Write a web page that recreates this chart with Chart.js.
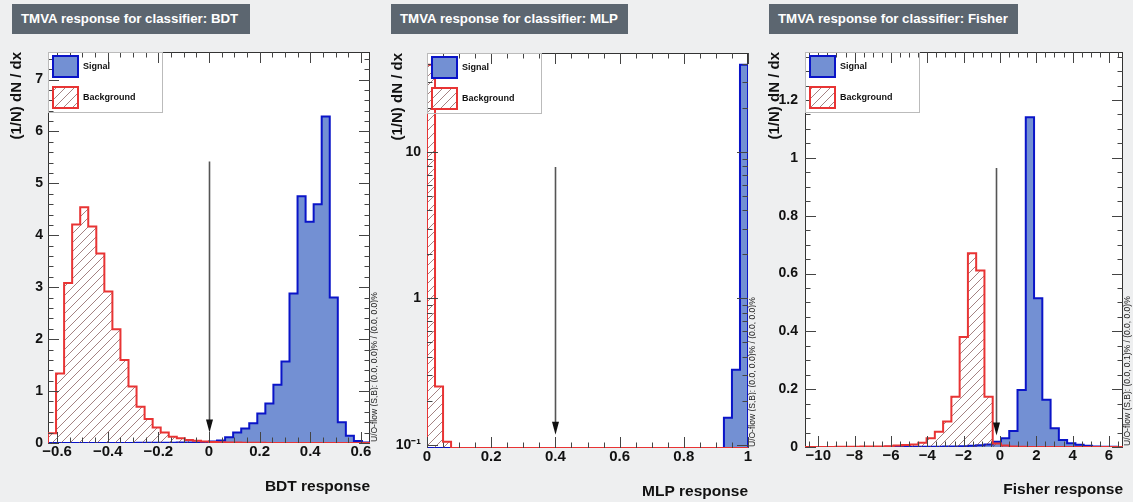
<!DOCTYPE html>
<html>
<head>
<meta charset="utf-8">
<script src="https://cdn.jsdelivr.net/npm/chart.js@4.4.0/dist/chart.umd.min.js"></script>
<style>
  body { margin: 0; width: 1133px; height: 502px; overflow: hidden; background: #eeeff0; font-family: 'Liberation Sans', Arial, sans-serif; }
  .panel { position: absolute; top: 0; height: 502px; }
  .panel canvas { position: absolute; left: 0; top: 0; }
  .ttl { position: absolute; top: 4px; height: 30px; line-height: 30px; background: #5c6670; color: #fff;
         font-weight: bold; font-size: 13.3px; padding-left: 9px; box-sizing: border-box; white-space: nowrap; }
</style>
</head>
<body>
<div class="panel" style="left:0;width:378px"><canvas id="cBDT" width="378" height="502"></canvas></div>
<div class="panel" style="left:378px;width:378px"><canvas id="cMLP" width="378" height="502"></canvas></div>
<div class="panel" style="left:756px;width:377px"><canvas id="cFisher" width="377" height="502"></canvas></div>
<div class="ttl" style="left:12px;width:238px">TMVA response for classifier: BDT</div>
<div class="ttl" style="left:391px;width:237px">TMVA response for classifier: MLP</div>
<div class="ttl" style="left:769px;width:249px">TMVA response for classifier: Fisher</div>
<script>
// BDT response, 40 bins over the axis range
const bdtRange = [-0.636, 0.636];
const bdtSignal = [0, 0, 0, 0, 0, 0, 0, 0, 0, 0.002, 0.002, 0.003, 0.003, 0.004, 0.005, 0.006, 0.008, 0.01, 0.012,
                   0.02, 0.03, 0.05, 0.11, 0.2, 0.28, 0.38, 0.57, 0.76, 1.12, 1.57, 2.88, 4.75, 4.26, 4.6, 6.29, 2.8, 0.4, 0.14, 0.04, 0.01];
const bdtBackground = [0.19, 1.34, 3.08, 4.21, 4.54, 4.17, 3.65, 2.92, 2.19, 1.6, 1.09, 0.7, 0.46, 0.3, 0.2, 0.12, 0.09, 0.06, 0.045, 0.03,
                       0.02, 0.015, 0.01, 0.008, 0.005, 0.004, 0.003, 0.002, 0.002, 0.001, 0, 0, 0, 0, 0, 0, 0, 0, 0, 0];
const bdtCut = 0;

// MLP response, 40 bins in [0, 1], log y axis
const mlpRange = [0, 1];
const mlpSignal = [0, 0, 0, 0, 0, 0, 0, 0, 0, 0, 0, 0, 0, 0, 0, 0, 0, 0, 0, 0,
                   0, 0, 0, 0, 0, 0, 0, 0, 0, 0, 0, 0, 0, 0, 0, 0, 0, 0.153, 0.325, 39.5];
const mlpBackground = [39.6, 0.25, 0.105, 0, 0, 0, 0, 0, 0, 0, 0, 0, 0, 0, 0, 0, 0, 0, 0, 0,
                       0, 0, 0, 0, 0, 0, 0, 0, 0, 0, 0, 0, 0, 0, 0, 0, 0, 0, 0, 0];
const mlpCut = 0.4;
const mlpLogTicks = [0.1, 0.2, 0.3, 0.4, 0.5, 0.6, 0.7, 0.8, 0.9, 1, 2, 3, 4, 5, 6, 7, 8, 9, 10, 20, 30, 40];

// Fisher response
const fisherBinStart = -10.865;
const fisherBinWidth = 0.455;
const fisherSignal = [0, 0, 0, 0, 0, 0, 0, 0, 0, 0, 0.001, 0.001, 0.001, 0.001, 0.001, 0.001, 0.001, 0.0015, 0.002, 0.003,
                      0.004, 0.006, 0.009, 0.018, 0.03, 0.055, 0.197, 1.14, 0.514, 0.163, 0.065, 0.024, 0.013, 0.008, 0.004, 0.002, 0.001, 0.0005, 0];
const fisherBackground = [0, 0, 0, 0, 0.001, 0.001, 0.001, 0.002, 0.002, 0.002, 0.003, 0.005, 0.007, 0.009, 0.015, 0.03, 0.053, 0.088, 0.174, 0.38,
                          0.67, 0.61, 0.174, 0.012, 0.005, 0.002, 0.001, 0, 0, 0, 0, 0, 0, 0, 0, 0, 0, 0, 0];
const fisherCut = -0.23;

const sigFill = '#7390d3', sigLine = '#0a14c8';
const bkgLine = '#e83434';
const FONT = "'Liberation Sans', Arial, sans-serif";

function makeHatch() {
    const c = document.createElement('canvas');
    c.width = c.height = 9;
    const g = c.getContext('2d');
    g.strokeStyle = 'rgba(120,70,70,0.85)';
    g.lineWidth = 0.8;
    g.beginPath(); g.moveTo(-1, 10); g.lineTo(10, -1); g.stroke();
    g.beginPath(); g.moveTo(-1, 1); g.lineTo(1, -1); g.stroke();
    g.beginPath(); g.moveTo(8, 10); g.lineTo(10, 8); g.stroke();
    return g.createPattern(c, 'repeat');
}
const hatch = makeHatch();

// step outline points of a histogram, closed down to the base
function histPoints(lo, width, vals, floor) {
    const base = floor || 0;
    const pts = [{x: lo, y: base}];
    vals.forEach((v, i) => pts.push({x: lo + i * width, y: Math.max(v, base)}));
    pts.push({x: lo + vals.length * width, y: base});
    return pts;
}

function steps(lo, hi, step) {
    const out = [];
    const n0 = Math.ceil(lo / step - 1e-6), n1 = Math.floor(hi / step + 1e-6);
    for (let n = n0; n <= n1; n++) out.push(+(n * step).toFixed(6));
    return out;
}

const tmvaDecor = {
    id: 'tmvaDecor',
    beforeDatasetsDraw(chart) {
        const {ctx, chartArea: a} = chart;
        ctx.save();
        ctx.fillStyle = '#fff';
        ctx.fillRect(a.left, a.top, a.right - a.left, a.bottom - a.top);
        ctx.strokeStyle = '#333';
        ctx.lineWidth = 1;
        ctx.strokeRect(a.left + 0.5, a.top + 0.5, a.right - a.left - 1, a.bottom - a.top - 1);
        ctx.restore();
    },
    afterDatasetsDraw(chart, args, o) {
        const {ctx, chartArea: a, scales: {x, y}} = chart;
        ctx.save();
        // inside ticks on all four sides
        ctx.strokeStyle = '#444';
        ctx.lineWidth = 1;
        const majLen = 11, minLen = 5.5;
        const xMaj = steps(x.min, x.max, o.xMajor);
        steps(x.min, x.max, o.xMinor).forEach(v => {
            const len = xMaj.some(m => Math.abs(m - v) < 1e-6) ? majLen : minLen;
            const px = Math.round(x.getPixelForValue(v)) + 0.5;
            ctx.beginPath();
            ctx.moveTo(px, a.bottom); ctx.lineTo(px, a.bottom - len);
            ctx.moveTo(px, a.top); ctx.lineTo(px, a.top + len);
            ctx.stroke();
        });
        let yTicks;
        if (o.logY) {
            yTicks = y.ticks.map(t => ({v: t.value, len: Math.abs(Math.log10(t.value) % 1) < 1e-6 ? majLen : minLen}));
        } else {
            const yMaj = steps(y.min, y.max, o.yMajor);
            yTicks = steps(y.min, y.max, o.yMinor).map(v => ({v, len: yMaj.some(m => Math.abs(m - v) < 1e-6) ? majLen : minLen}));
        }
        yTicks.forEach(t => {
            const py = Math.round(y.getPixelForValue(t.v)) + 0.5;
            ctx.beginPath();
            ctx.moveTo(a.left, py); ctx.lineTo(a.left + t.len, py);
            ctx.moveTo(a.right, py); ctx.lineTo(a.right - t.len, py);
            ctx.stroke();
        });

        // cut arrow
        const ax = Math.round(x.getPixelForValue(o.cut)) + 0.5;
        const y0 = y.getPixelForValue(o.arrowFrom), y1 = y.getPixelForValue(o.arrowTo);
        ctx.strokeStyle = '#555';
        ctx.lineWidth = 1.6;
        ctx.beginPath(); ctx.moveTo(ax, y0); ctx.lineTo(ax, y1 - 10); ctx.stroke();
        ctx.fillStyle = '#111';
        ctx.beginPath(); ctx.moveTo(ax - 3.5, y1 - 13); ctx.lineTo(ax + 3.5, y1 - 13); ctx.lineTo(ax, y1); ctx.closePath(); ctx.fill();

        // legend box
        const lx = a.left, ly = a.top;
        ctx.strokeStyle = '#bbb';
        ctx.lineWidth = 1;
        ctx.strokeRect(lx + 0.5, ly + 0.5, 114, 60);
        ctx.lineWidth = 2;
        ctx.fillStyle = sigFill; ctx.fillRect(lx + 5, ly + 4, 25, 21);
        ctx.strokeStyle = sigLine; ctx.strokeRect(lx + 5, ly + 4, 25, 21);
        ctx.fillStyle = '#fff'; ctx.fillRect(lx + 5, ly + 35, 25, 21);
        ctx.fillStyle = hatch; ctx.fillRect(lx + 5, ly + 35, 25, 21);
        ctx.strokeStyle = bkgLine; ctx.strokeRect(lx + 5, ly + 35, 25, 21);
        ctx.fillStyle = '#111';
        ctx.font = 'bold 9px ' + FONT;
        ctx.textBaseline = 'middle';
        ctx.textAlign = 'left';
        ctx.fillText('Signal', lx + 35, ly + 14.5);
        ctx.fillText('Background', lx + 35, ly + 45.5);

        // under/overflow note
        ctx.translate(a.right + 5, a.bottom - 1);
        ctx.rotate(-Math.PI / 2);
        ctx.font = '8.5px ' + FONT;
        ctx.fillStyle = '#222';
        ctx.fillText(o.flow, 0, 0);
        ctx.restore();
    }
};

const minusFmt = v => String(+(+v).toFixed(3)).replace('-', '\u2212');
const logFmt = v => {
    const l = Math.log10(v);
    if (Math.abs(l - Math.round(l)) > 1e-6) return '';
    return Math.round(l) === -1 ? '10\u207B\u00B9' : String(Math.round(v));
};

function makeChart(id, cfg) {
    const canvas = document.getElementById(id);
    const W = canvas.width, H = canvas.height, area = cfg.area;
    const yScale = cfg.logY
        ? {type: 'logarithmic', min: cfg.yRange[0], max: cfg.yRange[1],
           ticks: {autoSkip: false, callback: logFmt},
           afterBuildTicks: s => { s.ticks = cfg.logTicks.map(v => ({value: v})); }}
        : {type: 'linear', min: cfg.yRange[0], max: cfg.yRange[1],
           ticks: {stepSize: cfg.yMajor, includeBounds: false, callback: minusFmt}};
    yScale.ticks.padding = cfg.yTickPad;
    yScale.ticks.color = '#111';
    yScale.ticks.font = {family: FONT, size: 14, weight: 'bold'};
    yScale.grid = {display: false, drawTicks: false};
    yScale.border = {display: false};
    yScale.title = {display: true, text: '(1/N) dN / dx', align: 'end', color: '#111',
                    font: {family: FONT, size: 15, weight: 'bold'}, padding: {top: cfg.yTitlePad}};
    yScale.afterFit = s => { s.width = area.left; };

    return new Chart(canvas.getContext('2d'), {
        type: 'line',
        data: {
            datasets: [
                {label: 'Background', data: histPoints(cfg.binStart, cfg.binWidth, cfg.background, cfg.floor),
                 borderColor: bkgLine, backgroundColor: hatch, fill: 'origin', stepped: true, order: 0},
                {label: 'Signal', data: histPoints(cfg.binStart, cfg.binWidth, cfg.signal, cfg.floor),
                 borderColor: sigLine, backgroundColor: sigFill, fill: 'origin', stepped: true, order: 1}
            ]
        },
        options: {
            responsive: false,
            animation: false,
            layout: {padding: {top: area.top, right: W - area.right, left: 0, bottom: 0}},
            elements: {point: {radius: 0}, line: {borderWidth: 2, tension: 0}},
            plugins: {
                legend: {display: false},
                tooltip: {enabled: false},
                tmvaDecor: {xMajor: cfg.xMajor, xMinor: cfg.xMinor, yMajor: cfg.yMajor, yMinor: cfg.yMinor,
                            logY: !!cfg.logY, cut: cfg.cut, arrowFrom: cfg.arrow[0], arrowTo: cfg.arrow[1], flow: cfg.flow}
            },
            scales: {
                x: {
                    type: 'linear', min: cfg.xRange[0], max: cfg.xRange[1],
                    grid: {display: false, drawTicks: false},
                    border: {display: false},
                    ticks: {stepSize: cfg.xMajor, includeBounds: false, autoSkip: false, maxRotation: 0, padding: 0,
                            color: '#111', font: {family: FONT, size: 15, weight: 'bold'}, callback: minusFmt},
                    title: {display: true, text: cfg.xTitle, align: 'end', color: '#111',
                            font: {family: FONT, size: 15.5, weight: 'bold'}, padding: {bottom: cfg.xTitlePad}},
                    afterFit: s => { s.height = H - area.bottom; }
                },
                y: yScale
            }
        },
        plugins: [tmvaDecor]
    });
}

makeChart('cBDT', {
    area: {left: 48, right: 370, top: 52, bottom: 443},
    xRange: bdtRange, yRange: [0, 7.53],
    binStart: bdtRange[0], binWidth: (bdtRange[1] - bdtRange[0]) / bdtSignal.length,
    signal: bdtSignal, background: bdtBackground,
    xMajor: 0.2, xMinor: 0.05, yMajor: 1, yMinor: 0.2,
    cut: bdtCut, arrow: [5.42, 0.2],
    xTitle: 'BDT response', xTitlePad: 6, yTitlePad: 8, yTickPad: 5,
    flow: 'U/O-flow (S,B): (0.0, 0.0)% / (0.0, 0.0)%'
});

makeChart('cMLP', {
    area: {left: 49, right: 370, top: 53, bottom: 448},
    xRange: mlpRange, yRange: [0.095, 47.6], logY: true, floor: 0.095, logTicks: mlpLogTicks,
    binStart: mlpRange[0], binWidth: (mlpRange[1] - mlpRange[0]) / mlpSignal.length,
    signal: mlpSignal, background: mlpBackground,
    xMajor: 0.2, xMinor: 0.05,
    cut: mlpCut, arrow: [7.9, 0.117],
    xTitle: 'MLP response', xTitlePad: 1, yTitlePad: 11, yTickPad: 6,
    flow: 'U/O-flow (S,B): (0.0, 0.0)% / (0.0, 0.0)%'
});

makeChart('cFisher', {
    area: {left: 49, right: 367, top: 52, bottom: 447},
    xRange: [-10.73, 6.77], yRange: [0, 1.366],
    binStart: fisherBinStart, binWidth: fisherBinWidth,
    signal: fisherSignal, background: fisherBackground,
    xMajor: 2, xMinor: 0.5, yMajor: 0.2, yMinor: 0.05,
    cut: fisherCut, arrow: [0.965, 0.04],
    xTitle: 'Fisher response', xTitlePad: 3, yTitlePad: 10, yTickPad: 7,
    flow: 'U/O-flow (S,B): (0.0, 0.1)% / (0.0, 0.0)%'
});
</script>
</body>
</html>
